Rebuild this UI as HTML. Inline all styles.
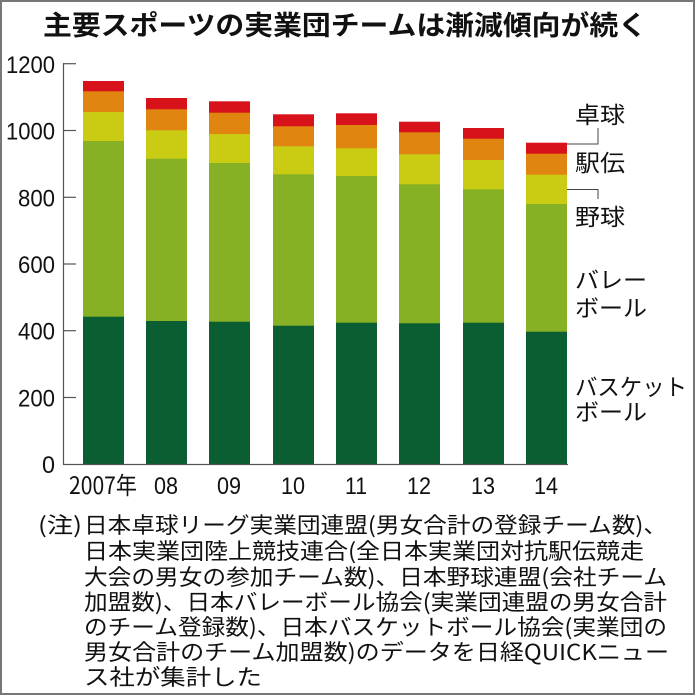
<!DOCTYPE html>
<html><head><meta charset="utf-8"><style>
html,body{margin:0;padding:0;background:#fff;}
svg{display:block;}
text{font-family:"Liberation Sans","Noto Sans CJK JP",sans-serif;fill:#111;}
.j{font-family:"Noto Sans CJK JP","Liberation Sans",sans-serif;}
</style></head><body>
<svg width="696" height="696" viewBox="0 0 696 696" xmlns="http://www.w3.org/2000/svg">
<rect x="1" y="1" width="693" height="693" fill="#fff" stroke="#777" stroke-width="2"/>
<text class="j" x="43" y="35" font-size="27" font-weight="bold" textLength="604" lengthAdjust="spacingAndGlyphs">主要スポーツの実業団チームは漸減傾向が続く</text>

<g font-size="24">
<text x="55" y="73" text-anchor="end" textLength="49" lengthAdjust="spacingAndGlyphs">1200</text>
<text x="55" y="139.5" text-anchor="end" textLength="49" lengthAdjust="spacingAndGlyphs">1000</text>
<text x="55" y="206.3" text-anchor="end" textLength="37" lengthAdjust="spacingAndGlyphs">800</text>
<text x="55" y="273" text-anchor="end" textLength="37" lengthAdjust="spacingAndGlyphs">600</text>
<text x="55" y="339.7" text-anchor="end" textLength="37" lengthAdjust="spacingAndGlyphs">400</text>
<text x="55" y="406.5" text-anchor="end" textLength="37" lengthAdjust="spacingAndGlyphs">200</text>
<text x="55" y="473" text-anchor="end" textLength="13" lengthAdjust="spacingAndGlyphs">0</text>
</g>

<!-- red -->
<g fill="#d7121a">
<rect x="83" y="81" width="41" height="383"/>
<rect x="146" y="98" width="41" height="366"/>
<rect x="209" y="101.3" width="41" height="362.7"/>
<rect x="273" y="114.3" width="41" height="349.7"/>
<rect x="336" y="113.3" width="41" height="350.7"/>
<rect x="399" y="121.7" width="41" height="342.3"/>
<rect x="463" y="128" width="41" height="336"/>
<rect x="526" y="142.7" width="41" height="321.3"/>
</g>
<!-- orange -->
<g fill="#e0850f">
<rect x="83" y="91.3" width="41" height="372.7"/>
<rect x="146" y="109.3" width="41" height="354.7"/>
<rect x="209" y="112.7" width="41" height="351.3"/>
<rect x="273" y="126.3" width="41" height="337.7"/>
<rect x="336" y="125" width="41" height="339"/>
<rect x="399" y="132.3" width="41" height="331.7"/>
<rect x="463" y="138.7" width="41" height="325.3"/>
<rect x="526" y="153.7" width="41" height="310.3"/>
</g>
<!-- yellow -->
<g fill="#c9cc12">
<rect x="83" y="112" width="41" height="352"/>
<rect x="146" y="130.3" width="41" height="333.7"/>
<rect x="209" y="134" width="41" height="330"/>
<rect x="273" y="146.3" width="41" height="317.7"/>
<rect x="336" y="148.3" width="41" height="315.7"/>
<rect x="399" y="154.3" width="41" height="309.7"/>
<rect x="463" y="160" width="41" height="304"/>
<rect x="526" y="174.7" width="41" height="289.3"/>
</g>
<!-- light green -->
<g fill="#87b125">
<rect x="83" y="141" width="41" height="323"/>
<rect x="146" y="158.7" width="41" height="305.3"/>
<rect x="209" y="163" width="41" height="301"/>
<rect x="273" y="174.3" width="41" height="289.7"/>
<rect x="336" y="176" width="41" height="288"/>
<rect x="399" y="184.3" width="41" height="279.7"/>
<rect x="463" y="189.3" width="41" height="274.7"/>
<rect x="526" y="204" width="41" height="260"/>
</g>
<!-- dark green -->
<g fill="#0b5e32">
<rect x="83" y="316.7" width="41" height="147.3"/>
<rect x="146" y="321" width="41" height="143"/>
<rect x="209" y="321.7" width="41" height="142.3"/>
<rect x="273" y="325.7" width="41" height="138.3"/>
<rect x="336" y="322.7" width="41" height="141.3"/>
<rect x="399" y="323.3" width="41" height="140.7"/>
<rect x="463" y="322.7" width="41" height="141.3"/>
<rect x="526" y="331.7" width="41" height="132.3"/>
</g>

<g stroke="#555" stroke-width="1.2">
<line x1="63.5" y1="63" x2="63.5" y2="464.5"/>
<line x1="63" y1="464.5" x2="568" y2="464.5"/>
<line x1="63" y1="63.7" x2="76" y2="63.7"/>
<line x1="63" y1="130.5" x2="76" y2="130.5"/>
<line x1="63" y1="197.3" x2="76" y2="197.3"/>
<line x1="63" y1="264" x2="76" y2="264"/>
<line x1="63" y1="330.7" x2="76" y2="330.7"/>
<line x1="63" y1="397.5" x2="76" y2="397.5"/>
</g>

<g font-size="24">
<text class="j" x="69" y="494" textLength="68" lengthAdjust="spacingAndGlyphs">2007年</text>
<text x="166" y="494" text-anchor="middle" textLength="24" lengthAdjust="spacingAndGlyphs">08</text>
<text x="229" y="494" text-anchor="middle" textLength="24" lengthAdjust="spacingAndGlyphs">09</text>
<text x="293" y="494" text-anchor="middle" textLength="24" lengthAdjust="spacingAndGlyphs">10</text>
<text x="356" y="494" text-anchor="middle" textLength="22" lengthAdjust="spacingAndGlyphs">11</text>
<text x="419" y="494" text-anchor="middle" textLength="24" lengthAdjust="spacingAndGlyphs">12</text>
<text x="483" y="494" text-anchor="middle" textLength="24" lengthAdjust="spacingAndGlyphs">13</text>
<text x="546" y="494" text-anchor="middle" textLength="24" lengthAdjust="spacingAndGlyphs">14</text>
</g>

<g stroke="#444" stroke-width="1" fill="none">
<polyline points="567,144 598,144 598,128"/>
<polyline points="567,189.5 598,189.5 598,199"/>
</g>
<g font-size="23">
<text class="j" x="575" y="123" textLength="50" lengthAdjust="spacingAndGlyphs">卓球</text>
<text class="j" x="575" y="171" textLength="50" lengthAdjust="spacingAndGlyphs">駅伝</text>
<text class="j" x="575" y="225" textLength="50" lengthAdjust="spacingAndGlyphs">野球</text>
<text class="j" x="575" y="288" textLength="72" lengthAdjust="spacingAndGlyphs">バレー</text>
<text class="j" x="575" y="316" textLength="72" lengthAdjust="spacingAndGlyphs">ボール</text>
<text class="j" x="575" y="395" textLength="112" lengthAdjust="spacingAndGlyphs">バスケット</text>
<text class="j" x="575" y="420" textLength="72" lengthAdjust="spacingAndGlyphs">ボール</text>
</g>

<g font-size="22">
<text class="j" x="38" y="533" textLength="44" lengthAdjust="spacingAndGlyphs">(注)</text>
<text class="j" x="84" y="533" textLength="583" lengthAdjust="spacingAndGlyphs">日本卓球リーグ実業団連盟(男女合計の登録チーム数)、</text>
<text class="j" x="84" y="559" textLength="560" lengthAdjust="spacingAndGlyphs">日本実業団陸上競技連合(全日本実業団対抗駅伝競走</text>
<text class="j" x="84" y="585" textLength="583" lengthAdjust="spacingAndGlyphs">大会の男女の参加チーム数)、日本野球連盟(会社チーム</text>
<text class="j" x="84" y="610" textLength="583" lengthAdjust="spacingAndGlyphs">加盟数)、日本バレーボール協会(実業団連盟の男女合計</text>
<text class="j" x="84" y="635" textLength="583" lengthAdjust="spacingAndGlyphs">のチーム登録数)、日本バスケットボール協会(実業団の</text>
<text class="j" x="84" y="660" textLength="585" lengthAdjust="spacingAndGlyphs">男女合計のチーム加盟数)のデータを日経QUICKニュー</text>
<text class="j" x="84" y="685" textLength="178" lengthAdjust="spacingAndGlyphs">ス社が集計した</text>
</g>
</svg>
</body></html>
